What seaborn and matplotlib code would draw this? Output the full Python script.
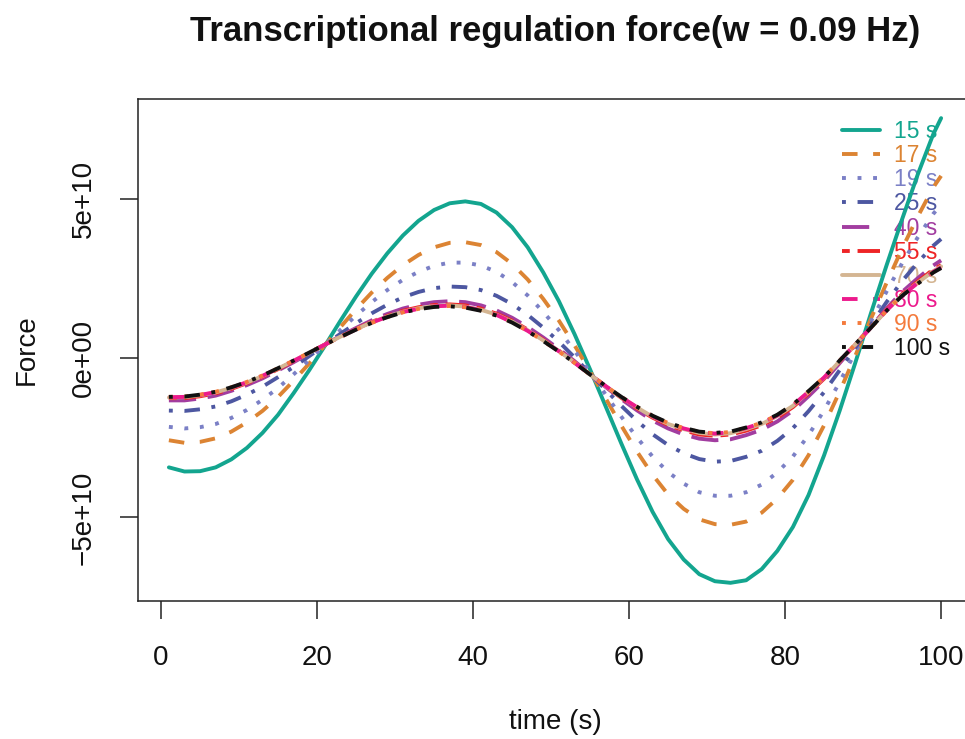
import matplotlib
matplotlib.use("Agg")
import matplotlib.pyplot as plt
import seaborn as sns
import pandas as pd
from matplotlib.lines import Line2D
from matplotlib.ticker import FixedLocator, FixedFormatter

# ---- data (force values in units of 1e10) ----
time_s = [1, 3, 5, 7, 9, 11, 13, 15, 17, 19,
          21, 23, 25, 27, 29, 31, 33, 35, 37, 39,
          41, 43, 45, 47, 49, 51, 53, 55, 57, 59,
          61, 63, 65, 67, 69, 71, 73, 75, 77, 79,
          81, 83, 85, 87, 89, 91, 93, 95, 97, 99,
          100]

f_15 = [-3.43, -3.56, -3.55, -3.43, -3.18, -2.82, -2.35, -1.78, -1.10, -0.38,
        0.38, 1.17, 1.93, 2.64, 3.28, 3.84, 4.30, 4.64, 4.85, 4.91,
        4.83, 4.56, 4.10, 3.47, 2.68, 1.78, 0.75, -0.36, -1.52, -2.68,
        -3.80, -4.82, -5.68, -6.32, -6.78, -7.00, -7.05, -6.97, -6.62, -6.05,
        -5.30, -4.30, -3.05, -1.65, -0.15, 1.40, 2.90, 4.35, 5.75, 7.02,
        7.52]
f_17 = [-2.58, -2.66, -2.63, -2.52, -2.31, -2.02, -1.66, -1.22, -0.71, -0.17,
        0.40, 0.97, 1.53, 2.05, 2.51, 2.91, 3.23, 3.47, 3.61, 3.63,
        3.54, 3.32, 2.95, 2.46, 1.85, 1.17, 0.40, -0.42, -1.27, -2.12,
        -2.93, -3.66, -4.28, -4.73, -5.06, -5.21, -5.23, -5.13, -4.85, -4.41,
        -3.82, -3.05, -2.11, -1.05, 0.07, 1.23, 2.35, 3.43, 4.43, 5.35,
        5.71]
f_19 = [-2.16, -2.21, -2.17, -2.07, -1.88, -1.63, -1.31, -0.94, -0.51, -0.06,
        0.40, 0.88, 1.33, 1.75, 2.13, 2.45, 2.70, 2.89, 2.99, 2.99,
        2.90, 2.70, 2.38, 1.96, 1.44, 0.87, 0.23, -0.45, -1.15, -1.84,
        -2.49, -3.09, -3.58, -3.94, -4.21, -4.32, -4.32, -4.21, -3.97, -3.59,
        -3.09, -2.42, -1.64, -0.75, 0.18, 1.14, 2.08, 2.97, 3.78, 4.52,
        4.81]
f_25 = [-1.65, -1.66, -1.61, -1.52, -1.36, -1.15, -0.90, -0.60, -0.28, 0.06,
        0.41, 0.76, 1.09, 1.40, 1.67, 1.90, 2.07, 2.19, 2.24, 2.22,
        2.13, 1.95, 1.69, 1.35, 0.95, 0.51, 0.02, -0.49, -1.00, -1.50,
        -1.97, -2.39, -2.73, -2.99, -3.17, -3.25, -3.23, -3.10, -2.91, -2.60,
        -2.20, -1.67, -1.07, -0.38, 0.32, 1.04, 1.75, 2.41, 2.99, 3.52,
        3.73]
f_40 = [-1.33, -1.33, -1.27, -1.18, -1.03, -0.85, -0.64, -0.39, -0.13, 0.14,
        0.42, 0.69, 0.94, 1.18, 1.38, 1.55, 1.67, 1.75, 1.78, 1.75,
        1.65, 1.49, 1.26, 0.97, 0.64, 0.28, -0.10, -0.51, -0.91, -1.29,
        -1.64, -1.96, -2.21, -2.40, -2.53, -2.58, -2.55, -2.42, -2.25, -1.99,
        -1.65, -1.20, -0.72, -0.16, 0.40, 0.97, 1.55, 2.07, 2.50, 2.90,
        3.06]
f_55 = [-1.26, -1.26, -1.20, -1.11, -0.97, -0.79, -0.59, -0.35, -0.10, 0.16,
        0.42, 0.67, 0.91, 1.13, 1.32, 1.48, 1.59, 1.66, 1.68, 1.65,
        1.55, 1.39, 1.17, 0.89, 0.57, 0.23, -0.13, -0.52, -0.89, -1.25,
        -1.58, -1.87, -2.10, -2.27, -2.40, -2.44, -2.40, -2.28, -2.11, -1.87,
        -1.54, -1.11, -0.65, -0.11, 0.42, 0.96, 1.51, 2.00, 2.40, 2.77,
        2.91]
f_70 = [-1.24, -1.23, -1.17, -1.08, -0.94, -0.77, -0.57, -0.33, -0.09, 0.16,
        0.42, 0.67, 0.90, 1.12, 1.30, 1.45, 1.56, 1.63, 1.65, 1.61,
        1.51, 1.36, 1.14, 0.87, 0.55, 0.22, -0.14, -0.52, -0.89, -1.23,
        -1.55, -1.84, -2.07, -2.23, -2.35, -2.40, -2.36, -2.23, -2.07, -1.82,
        -1.50, -1.07, -0.62, -0.10, 0.42, 0.95, 1.49, 1.97, 2.36, 2.72,
        2.87]
f_80 = [-1.23, -1.22, -1.16, -1.07, -0.93, -0.76, -0.56, -0.33, -0.09, 0.17,
        0.42, 0.66, 0.90, 1.11, 1.29, 1.44, 1.54, 1.62, 1.64, 1.60,
        1.50, 1.35, 1.12, 0.85, 0.54, 0.21, -0.15, -0.52, -0.88, -1.23,
        -1.54, -1.83, -2.05, -2.21, -2.33, -2.37, -2.33, -2.20, -2.04, -1.80,
        -1.48, -1.06, -0.61, -0.09, 0.43, 0.95, 1.49, 1.96, 2.35, 2.70,
        2.84]
f_90 = [-1.22, -1.21, -1.15, -1.06, -0.92, -0.75, -0.55, -0.32, -0.08, 0.17,
        0.42, 0.66, 0.89, 1.10, 1.28, 1.43, 1.54, 1.61, 1.63, 1.59,
        1.49, 1.34, 1.12, 0.85, 0.53, 0.20, -0.15, -0.52, -0.88, -1.22,
        -1.53, -1.82, -2.04, -2.20, -2.32, -2.36, -2.32, -2.19, -2.03, -1.79,
        -1.47, -1.05, -0.60, -0.08, 0.43, 0.95, 1.48, 1.95, 2.34, 2.69,
        2.83]
f_100 = [-1.22, -1.21, -1.15, -1.06, -0.92, -0.75, -0.55, -0.32, -0.08, 0.17,
         0.42, 0.66, 0.89, 1.10, 1.28, 1.43, 1.53, 1.60, 1.62, 1.58,
         1.48, 1.33, 1.11, 0.84, 0.53, 0.20, -0.15, -0.52, -0.88, -1.22,
         -1.53, -1.81, -2.03, -2.19, -2.31, -2.35, -2.31, -2.18, -2.02, -1.78,
         -1.46, -1.04, -0.60, -0.08, 0.43, 0.95, 1.48, 1.95, 2.33, 2.68,
         2.82]

series_labels = ["15 s", "17 s", "19 s", "25 s", "40 s", "55 s", "70 s", "80 s", "90 s", "100 s"]
series_values = [f_15, f_17, f_19, f_25, f_40, f_55, f_70, f_80, f_90, f_100]
UNIT = 1e10

x_ticks = [0, 20, 40, 60, 80, 100]
y_ticks = [-5e10, 0, 5e10]
y_tick_labels = ["\u22125e+10", "0e+00", "5e+10"]

# ---- styles ----
colors = ["#13a58f", "#dc8433", "#7b80c6", "#4d57a1", "#a23da0",
          "#ee2426", "#d4b592", "#ec1a8c", "#f47a3c", "#111111"]
solid = "-"
dashed = (0, (4, 4))
dotted = (0, (1, 3))
dotdash = (0, (1, 3, 4, 3))
longdash = (0, (7, 3))
twodash = (0, (2, 2, 6, 2))
styles = [solid, dashed, dotted, dotdash, longdash, twodash, solid, dashed, dotted, dotdash]

rows = []
for lab, vals in zip(series_labels, series_values):
    assert len(vals) == len(time_s)
    for t, v in zip(time_s, vals):
        rows.append({"time": t, "force": v * UNIT, "series": lab})
df = pd.DataFrame(rows)

sns.set_style("ticks")
plt.rcParams["font.family"] = ["Liberation Sans", "DejaVu Sans"]

W, H = 965, 739
fig = plt.figure(figsize=(W / 100, H / 100), dpi=100)
ax = fig.add_axes([138 / W, (H - 601) / H, (972 - 138) / W, (601 - 99) / H])

LW = 2.8
for lab, col, ls in zip(series_labels, colors, styles):
    sub = df[df["series"] == lab]
    sns.lineplot(data=sub, x="time", y="force", ax=ax, color=col, linewidth=LW,
                 linestyle=ls, legend=False, errorbar=None, sort=False, zorder=3)

ax.set_xlim(-2.96, 103.96)
ax.set_ylim(-7.62e10, 8.12e10)
ax.xaxis.set_major_locator(FixedLocator(x_ticks))
ax.yaxis.set_major_locator(FixedLocator(y_ticks))
ax.yaxis.set_major_formatter(FixedFormatter(y_tick_labels))

for sp in ax.spines.values():
    sp.set_visible(True)
    sp.set_linewidth(1.1)
    sp.set_color("#222222")
ax.tick_params(axis="both", direction="out", length=13, width=1.1, colors="#222222",
               labelsize=20, labelcolor="#111111")
ax.tick_params(axis="x", pad=18.5)
ax.tick_params(axis="y", pad=16.5, labelrotation=90)
for t in ax.get_yticklabels():
    t.set_va("center")

ax.set_xlabel("time (s)", fontsize=20, color="#111111")
ax.set_ylabel("Force", fontsize=20, color="#111111")
ax.xaxis.set_label_coords(0.5, (601 - 722) / (601 - 99))
ax.xaxis.label.set_va("center")
ax.yaxis.set_label_coords((27 - 138) / (972 - 138), (601 - 350) / (601 - 99))
ax.yaxis.label.set_va("center")

fig.text(555 / W, 1 - 32 / H, "Transcriptional regulation force(w = 0.09 Hz)",
         ha="center", va="center", fontsize=25, fontweight="bold", color="#111111")

handles = [Line2D([0], [0], color=c, lw=LW, linestyle=s) for c, s in zip(colors, styles)]
leg = ax.legend(handles, series_labels, loc="upper left",
                bbox_to_anchor=(842 / W, 1 - 120 / H), bbox_transform=fig.transFigure,
                frameon=False, fontsize=16.5, labelcolor="linecolor",
                handlelength=1.65, handletextpad=0.6, labelspacing=0.05,
                borderpad=0, borderaxespad=0)
leg.set_zorder(1)

fig.savefig("out.png", dpi=100)
